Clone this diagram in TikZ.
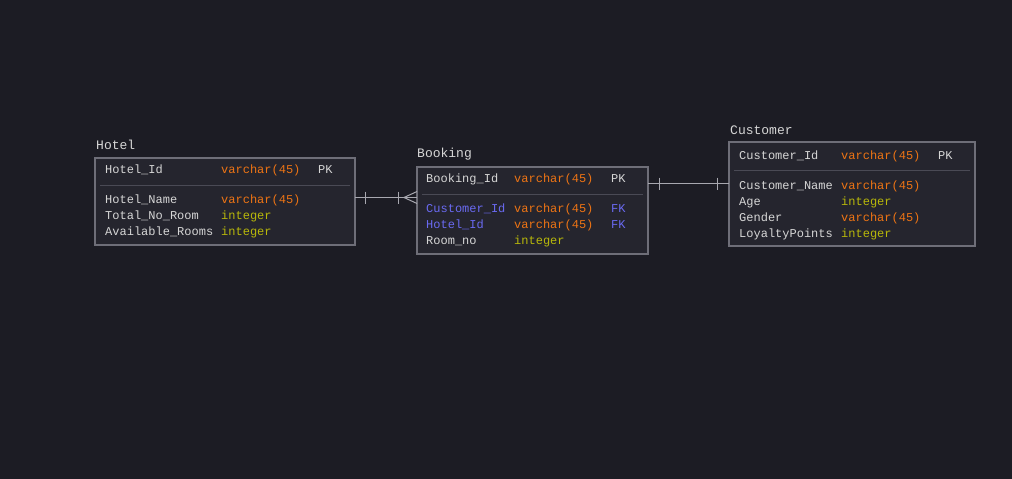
\documentclass[tikz,border=0pt]{standalone}
\usepackage{fontspec}
\setmonofont{Liberation Mono}
\definecolor{bg}{HTML}{1C1C24}
\definecolor{boxfill}{HTML}{25252E}
\definecolor{boxline}{HTML}{6E6E78}
\definecolor{sepline}{HTML}{4A4A55}
\definecolor{txt}{HTML}{D6D6D6}
\definecolor{ora}{HTML}{EE7414}
\definecolor{yel}{HTML}{B8B80A}
\definecolor{blu}{HTML}{6A6AF2}
\definecolor{conn}{HTML}{A8A8B0}
\begin{document}
\begin{tikzpicture}[x=1pt,y=-1pt,
  tbl/.style={draw=boxline,fill=boxfill,line width=2pt,anchor=north west,inner sep=0pt,outer sep=0pt},
  ttl/.style={anchor=base west,inner sep=0pt,font=\ttfamily\fontsize{13}{13}\selectfont,text=txt},
  fld/.style={anchor=base west,inner sep=0pt,font=\ttfamily\fontsize{12}{12}\selectfont,text=txt},
  vc/.style={fld,text=ora},
  ic/.style={fld,text=yel},
  fk/.style={fld,text=blu},
  sep/.style={draw=sepline,line width=1.5pt},
  rel/.style={draw=conn,line width=1pt}]
\fill[bg] (0,0) rectangle (1012,479);
\useasboundingbox (0,0) rectangle (1012,479);

% Hotel
\node[tbl,minimum width=260pt,minimum height=87pt] (hotel) at (95,158) {};
\node[ttl] (hotelT) at (96,149) {Hotel};
\draw[sep] (100,185.5) -- (350,185.5);
\node[fld] (h1) at (105,173.5) {Hotel\_Id};
\node[vc]  (h1t) at (221,173.5) {varchar(45)};
\node[fld] (h1k) at (318,173.5) {PK};
\node[fld] (h2) at (105,203.5) {Hotel\_Name};
\node[vc]  (h2t) at (221,203.5) {varchar(45)};
\node[fld] (h3) at (105,219.5) {Total\_No\_Room};
\node[ic]  (h3t) at (221,219.5) {integer};
\node[fld] (h4) at (105,235.5) {Available\_Rooms};
\node[ic]  (h4t) at (221,235.5) {integer};

% Booking
\node[tbl,minimum width=231pt,minimum height=87pt] (booking) at (417,167) {};
\node[ttl] (bookingT) at (417,157.5) {Booking};
\draw[sep] (422,194.5) -- (643,194.5);
\node[fld] (b1) at (426,182.5) {Booking\_Id};
\node[vc]  (b1t) at (514,182.5) {varchar(45)};
\node[fld] (b1k) at (611,182.5) {PK};
\node[fk]  (b2) at (426,212.5) {Customer\_Id};
\node[vc]  (b2t) at (514,212.5) {varchar(45)};
\node[fk]  (b2k) at (611,212.5) {FK};
\node[fk]  (b3) at (426,228.5) {Hotel\_Id};
\node[vc]  (b3t) at (514,228.5) {varchar(45)};
\node[fk]  (b3k) at (611,228.5) {FK};
\node[fld] (b4) at (426,244.5) {Room\_no};
\node[ic]  (b4t) at (514,244.5) {integer};

% Customer
\node[tbl,minimum width=246pt,minimum height=104pt] (customer) at (729,142) {};
\node[ttl] (customerT) at (730,134.5) {Customer};
\draw[sep] (734,170.5) -- (970,170.5);
\node[fld] (c1) at (739,159.5) {Customer\_Id};
\node[vc]  (c1t) at (841,159.5) {varchar(45)};
\node[fld] (c1k) at (938,159.5) {PK};
\node[fld] (c2) at (739,189) {Customer\_Name};
\node[vc]  (c2t) at (841,189) {varchar(45)};
\node[fld] (c3) at (739,205) {Age};
\node[ic]  (c3t) at (841,205) {integer};
\node[fld] (c4) at (739,221) {Gender};
\node[vc]  (c4t) at (841,221) {varchar(45)};
\node[fld] (c5) at (739,237) {LoyaltyPoints};
\node[ic]  (c5t) at (841,237) {integer};

% Hotel -- Booking (one to many)
\coordinate (hb1) at (hotel.east |- 0,197.5);
\coordinate (hb2) at (booking.west |- 0,197.5);
\draw[rel] (hb1) -- (hb2);
\draw[rel] (365.5,191.5) -- (365.5,203.5);
\draw[rel] (398.5,191.5) -- (398.5,203.5);
\draw[rel] (hb2) ++(0,-6) -- (404,197.5) -- ++(13,6);

% Booking -- Customer (one to one)
\coordinate (bc1) at (booking.east |- 0,183.5);
\coordinate (bc2) at (customer.west |- 0,183.5);
\draw[rel] (bc1) -- (bc2);
\draw[rel] (659.5,177.5) -- (659.5,189.5);
\draw[rel] (717.5,177.5) -- (717.5,189.5);
\end{tikzpicture}
\end{document}
